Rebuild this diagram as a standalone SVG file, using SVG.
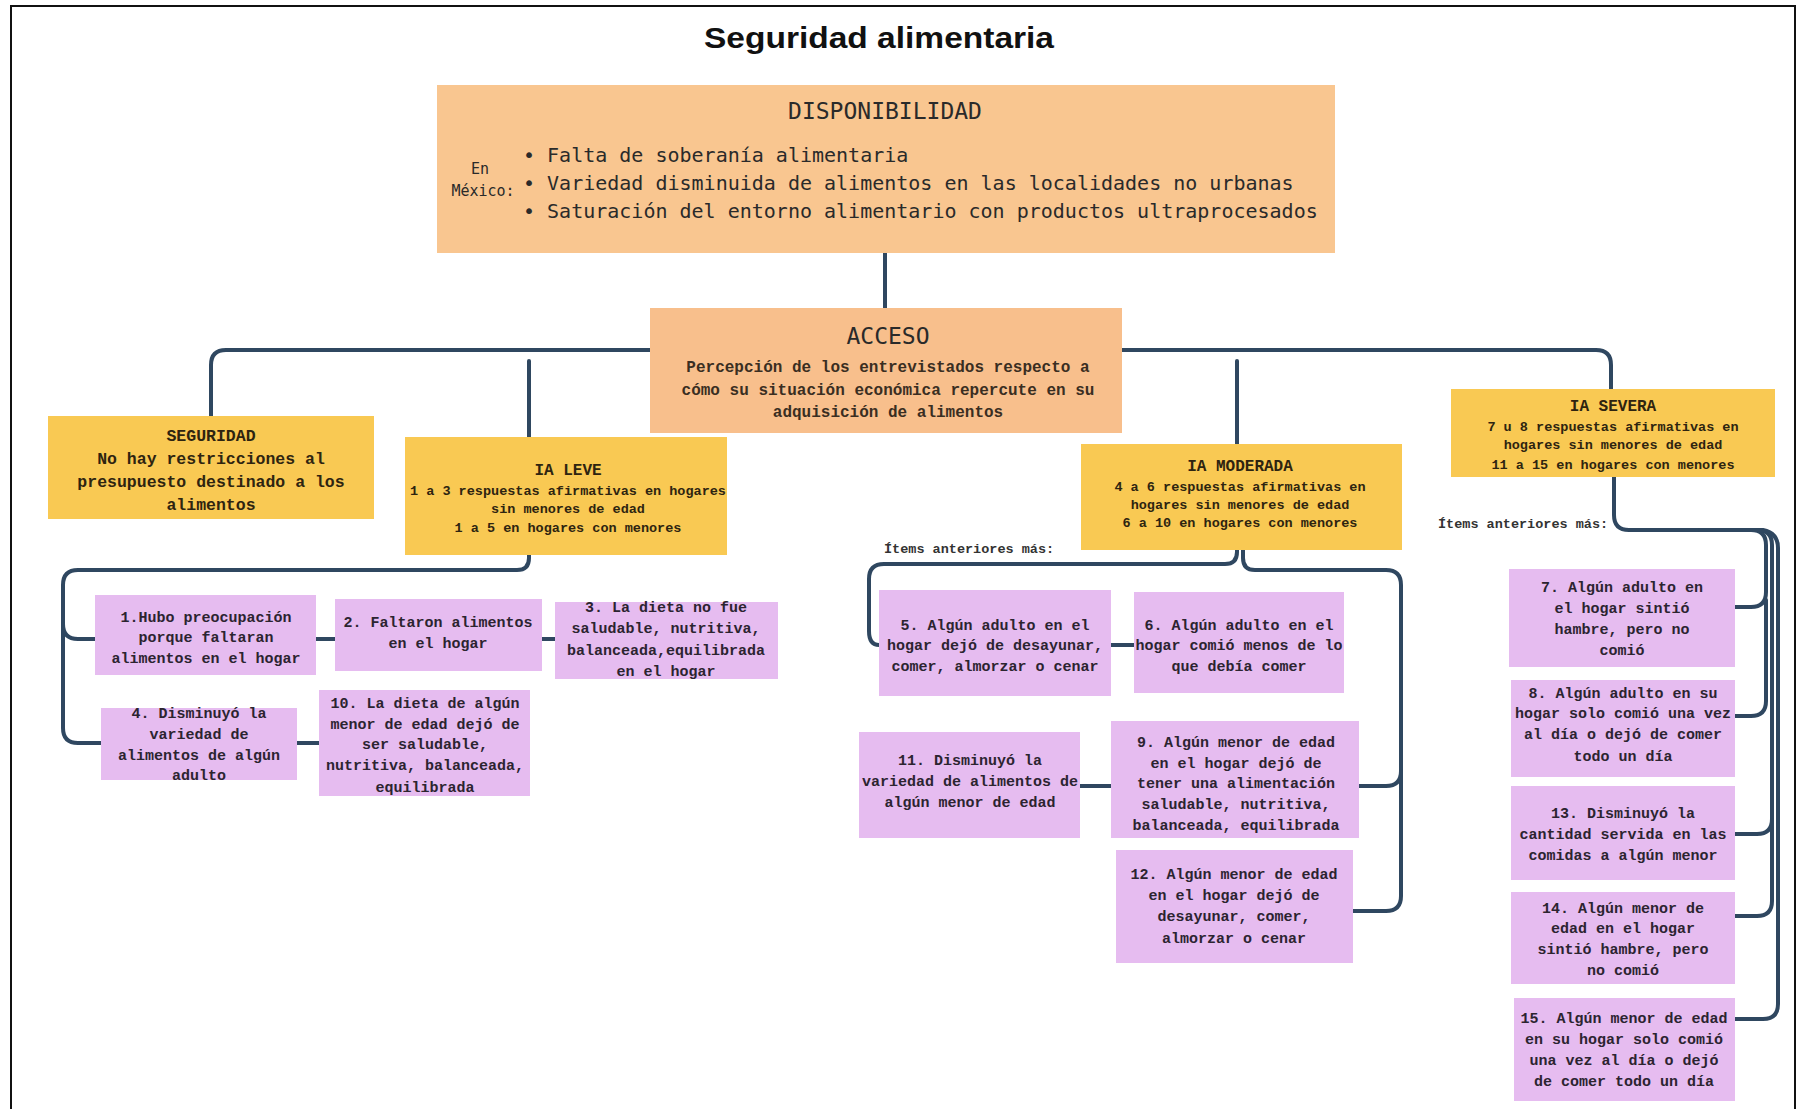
<svg xmlns="http://www.w3.org/2000/svg" width="1804" height="1109" viewBox="0 0 1804 1109">
<style>
.frame{fill:none;stroke:#111;stroke-width:2}
.conn{fill:none;stroke:#2f4760;stroke-width:4;stroke-linecap:round;stroke-linejoin:round}
.peach{fill:#f9c690}
.peach2{fill:#f8bf8c}
.yellow{fill:#f9c953}
.purple{fill:#e6bcf0}
.title{font-family:"Liberation Sans",Arial,sans-serif;font-weight:bold;font-size:29px;fill:#111;text-anchor:middle}
.head{font-family:"DejaVu Sans Mono","Liberation Mono",monospace;font-size:23px;fill:#2a2a2a;text-anchor:middle}
.disp{font-family:"DejaVu Sans Mono","Liberation Mono",monospace;font-size:20px;fill:#2a2a2a}
.small{font-family:"DejaVu Sans Mono","Liberation Mono",monospace;font-size:15px;fill:#2a2a2a;text-anchor:middle}
.acc{font-family:"Liberation Mono","DejaVu Sans Mono",monospace;font-weight:bold;font-size:16px;fill:#3a2e22;text-anchor:middle}
.seg{font-family:"Liberation Mono","DejaVu Sans Mono",monospace;font-weight:bold;font-size:16.5px;fill:#2e2410;text-anchor:middle}
.ia{font-family:"Liberation Mono","DejaVu Sans Mono",monospace;font-weight:bold;font-size:13.5px;fill:#2e2410;text-anchor:middle}
.iah{font-family:"Liberation Mono","DejaVu Sans Mono",monospace;font-weight:bold;font-size:16px;fill:#2e2410;text-anchor:middle}
.item{font-family:"Liberation Mono","DejaVu Sans Mono",monospace;font-weight:bold;font-size:15px;fill:#2c2430;text-anchor:middle}
.lbl{font-family:"Liberation Mono","DejaVu Sans Mono",monospace;font-weight:bold;font-size:13.5px;fill:#333}
</style>
<rect width="1804" height="1109" fill="#fff"/>
<path class="frame" d="M11,1109 V6 H1795 V1109"/>
<text class="title" x="879" y="48" textLength="350" lengthAdjust="spacingAndGlyphs">Seguridad alimentaria</text>

<g id="connectors">
<path class="conn" d="M885,253 V308"/>
<path class="conn" d="M650,350 H226 Q211,350 211,365 V416"/>
<path class="conn" d="M1122,350 H1596 Q1611,350 1611,365 V389"/>
<path class="conn" d="M529,361 V437"/>
<path class="conn" d="M1237,361 V444"/>
<path class="conn" d="M529,555 V558 Q529,570 517,570 H78 Q63,570 63,585 V728 Q63,743 78,743 H101"/>
<path class="conn" d="M63,624 Q63,639 78,639 H95"/>
<path class="conn" d="M316,639 H335"/>
<path class="conn" d="M542,639 H555"/>
<path class="conn" d="M297,743 H319"/>
<path class="conn" d="M1237,550 V552 Q1237,564 1225,564 H884 Q869,564 869,579 V631 Q869,645 879,645"/>
<path class="conn" d="M1111,645 H1134"/>
<path class="conn" d="M1080,786 H1111"/>
<path class="conn" d="M1243,550 V558 Q1243,570 1255,570 H1386 Q1401,570 1401,585 V771 Q1401,786 1386,786 H1359"/>
<path class="conn" d="M1401,771 V896 Q1401,911 1386,911 H1353"/>
<path class="conn" d="M1614,477 V515 Q1614,530 1629,530 H1751 Q1766,530 1766,545 V592 Q1766,607 1751,607 H1735"/>
<path class="conn" d="M1766,600 V701 Q1766,716 1751,716 H1735"/>
<path class="conn" d="M1700,530 H1757 Q1772,530 1772,545 V819 Q1772,834 1757,834 H1735"/>
<path class="conn" d="M1772,820 V901 Q1772,916 1757,916 H1735"/>
<path class="conn" d="M1700,530 H1763 Q1778,533 1778,548 V1004 Q1778,1019 1763,1019 H1735"/>
</g>

<g id="disponibilidad">
<rect class="peach" x="437" y="85" width="898" height="168"/>
<text class="head" x="885" y="119">DISPONIBILIDAD</text>
<text class="small" x="480" y="174">En</text>
<text class="small" x="483" y="196">México:</text>
<text class="disp" x="523" y="162">• Falta de soberanía alimentaria</text>
<text class="disp" x="523" y="190">• Variedad disminuida de alimentos en las localidades no urbanas</text>
<text class="disp" x="523" y="218">• Saturación del entorno alimentario con productos ultraprocesados</text>
</g>

<g id="acceso">
<rect class="peach2" x="650" y="308" width="472" height="125"/>
<text class="head" x="888" y="344">ACCESO</text>
<text class="acc" x="888" y="372">Percepción de los entrevistados respecto a</text>
<text class="acc" x="888" y="395">cómo su situación económica repercute en su</text>
<text class="acc" x="888" y="417">adquisición de alimentos</text>
</g>

<g id="seguridad">
<rect class="yellow" x="48" y="416" width="326" height="103"/>
<text class="seg" x="211" y="441">SEGURIDAD</text>
<text class="seg" x="211" y="464">No hay restricciones al</text>
<text class="seg" x="211" y="487">presupuesto destinado a los</text>
<text class="seg" x="211" y="510">alimentos</text>
</g>

<g id="ia-leve">
<rect class="yellow" x="405" y="437" width="322" height="118"/>
<text class="iah" x="568" y="475">IA LEVE</text>
<text class="ia" x="568" y="495">1 a 3 respuestas afirmativas en hogares</text>
<text class="ia" x="568" y="513">sin menores de edad</text>
<text class="ia" x="568" y="532">1 a 5 en hogares con menores</text>
</g>

<g id="ia-moderada">
<rect class="yellow" x="1081" y="444" width="321" height="106"/>
<text class="iah" x="1240" y="471">IA MODERADA</text>
<text class="ia" x="1240" y="491">4 a 6 respuestas afirmativas en</text>
<text class="ia" x="1240" y="509">hogares sin menores de edad</text>
<text class="ia" x="1240" y="527">6 a 10 en hogares con menores</text>
</g>

<g id="ia-severa">
<rect class="yellow" x="1451" y="389" width="324" height="88"/>
<text class="iah" x="1613" y="411">IA SEVERA</text>
<text class="ia" x="1613" y="431">7 u 8 respuestas afirmativas en</text>
<text class="ia" x="1613" y="449">hogares sin menores de edad</text>
<text class="ia" x="1613" y="469">11 a 15 en hogares con menores</text>
</g>

<g id="label-moderada"><text class="lbl" x="884" y="553">Ítems anteriores más:</text></g>
<g id="label-severa"><text class="lbl" x="1438" y="528">Ítems anteriores más:</text></g>

<g id="item1">
<rect class="purple" x="95" y="595" width="221" height="80"/>
<text class="item" x="206" y="622">1.Hubo preocupación</text>
<text class="item" x="206" y="642">porque faltaran</text>
<text class="item" x="206" y="663">alimentos en el hogar</text>
</g>
<g id="item2">
<rect class="purple" x="335" y="599" width="207" height="72"/>
<text class="item" x="438" y="627">2. Faltaron alimentos</text>
<text class="item" x="438" y="648">en el hogar</text>
</g>
<g id="item3">
<rect class="purple" x="555" y="602" width="223" height="77"/>
<text class="item" x="666" y="612">3. La dieta no fue</text>
<text class="item" x="666" y="633">saludable, nutritiva,</text>
<text class="item" x="666" y="655">balanceada,equilibrada</text>
<text class="item" x="666" y="676">en el hogar</text>
</g>
<g id="item4">
<rect class="purple" x="101" y="708" width="196" height="72"/>
<text class="item" x="199" y="718">4. Disminuyó la</text>
<text class="item" x="199" y="739">variedad de</text>
<text class="item" x="199" y="760">alimentos de algún</text>
<text class="item" x="199" y="780">adulto</text>
</g>
<g id="item10">
<rect class="purple" x="319" y="690" width="211" height="106"/>
<text class="item" x="425" y="708">10. La dieta de algún</text>
<text class="item" x="425" y="729">menor de edad dejó de</text>
<text class="item" x="425" y="749">ser saludable,</text>
<text class="item" x="425" y="770">nutritiva, balanceada,</text>
<text class="item" x="425" y="792">equilibrada</text>
</g>
<g id="item5">
<rect class="purple" x="879" y="590" width="232" height="106"/>
<text class="item" x="995" y="630">5. Algún adulto en el</text>
<text class="item" x="995" y="650">hogar dejó de desayunar,</text>
<text class="item" x="995" y="671">comer, almorzar o cenar</text>
</g>
<g id="item6">
<rect class="purple" x="1134" y="592" width="210" height="101"/>
<text class="item" x="1239" y="630">6. Algún adulto en el</text>
<text class="item" x="1239" y="650">hogar comió menos de lo</text>
<text class="item" x="1239" y="671">que debía comer</text>
</g>
<g id="item11">
<rect class="purple" x="859" y="732" width="221" height="106"/>
<text class="item" x="970" y="765">11. Disminuyó la</text>
<text class="item" x="970" y="786">variedad de alimentos de</text>
<text class="item" x="970" y="807">algún menor de edad</text>
</g>
<g id="item9">
<rect class="purple" x="1111" y="721" width="248" height="117"/>
<text class="item" x="1236" y="747">9. Algún menor de edad</text>
<text class="item" x="1236" y="768">en el hogar dejó de</text>
<text class="item" x="1236" y="788">tener una alimentación</text>
<text class="item" x="1236" y="809">saludable, nutritiva,</text>
<text class="item" x="1236" y="830">balanceada, equilibrada</text>
</g>
<g id="item12">
<rect class="purple" x="1116" y="850" width="237" height="113"/>
<text class="item" x="1234" y="879">12. Algún menor de edad</text>
<text class="item" x="1234" y="900">en el hogar dejó de</text>
<text class="item" x="1234" y="921">desayunar, comer,</text>
<text class="item" x="1234" y="943">almorzar o cenar</text>
</g>
<g id="item7">
<rect class="purple" x="1509" y="569" width="226" height="98"/>
<text class="item" x="1622" y="592">7. Algún adulto en</text>
<text class="item" x="1622" y="613">el hogar sintió</text>
<text class="item" x="1622" y="634">hambre, pero no</text>
<text class="item" x="1622" y="655">comió</text>
</g>
<g id="item8">
<rect class="purple" x="1511" y="680" width="224" height="97"/>
<text class="item" x="1623" y="698">8. Algún adulto en su</text>
<text class="item" x="1623" y="718">hogar solo comió una vez</text>
<text class="item" x="1623" y="739">al día o dejó de comer</text>
<text class="item" x="1623" y="761">todo un día</text>
</g>
<g id="item13">
<rect class="purple" x="1511" y="786" width="224" height="94"/>
<text class="item" x="1623" y="818">13. Disminuyó la</text>
<text class="item" x="1623" y="839">cantidad servida en las</text>
<text class="item" x="1623" y="860">comidas a algún menor</text>
</g>
<g id="item14">
<rect class="purple" x="1511" y="892" width="224" height="92"/>
<text class="item" x="1623" y="913">14. Algún menor de</text>
<text class="item" x="1623" y="933">edad en el hogar</text>
<text class="item" x="1623" y="954">sintió hambre, pero</text>
<text class="item" x="1623" y="975">no comió</text>
</g>
<g id="item15">
<rect class="purple" x="1514" y="998" width="221" height="103"/>
<text class="item" x="1624" y="1023">15. Algún menor de edad</text>
<text class="item" x="1624" y="1044">en su hogar solo comió</text>
<text class="item" x="1624" y="1065">una vez al día o dejó</text>
<text class="item" x="1624" y="1086">de comer todo un día</text>
</g>
</svg>
